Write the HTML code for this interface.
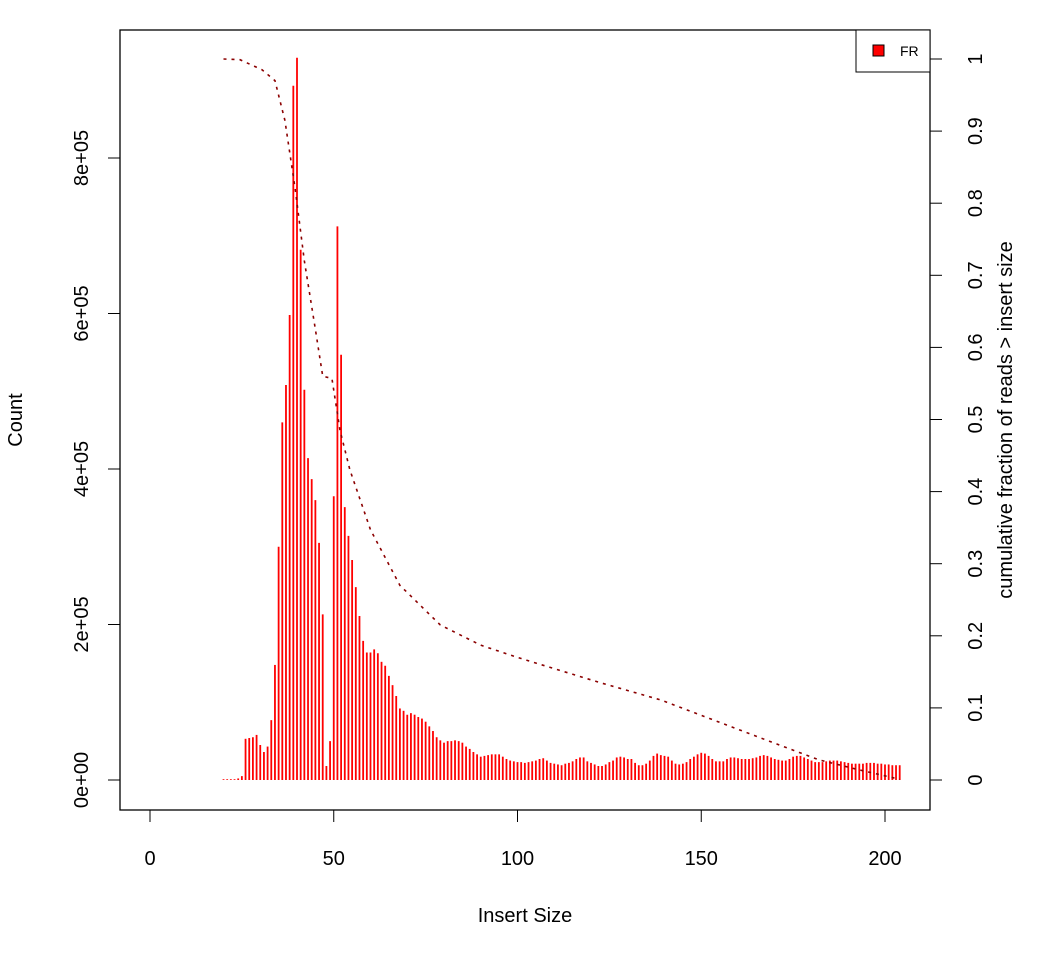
<!DOCTYPE html>
<html><head><meta charset="utf-8"><style>
body{margin:0;background:#fff}
text{font-family:"Liberation Sans",Arial,sans-serif;fill:#000}
</style></head><body>
<svg id="chart" width="1050" height="960" xmlns="http://www.w3.org/2000/svg">
<rect x="120" y="30" width="810" height="780" fill="none" stroke="#000" stroke-width="1.3"/>
<g id="bars"></g>
<path id="cum" fill="none" stroke="#8b0000" stroke-width="1.6" stroke-dasharray="3,5"/>
<g id="axes"></g>
<text x="525" y="922" font-size="20" text-anchor="middle">Insert Size</text>
<text transform="translate(22,420) rotate(-90)" font-size="20" text-anchor="middle">Count</text>
<text transform="translate(1012,420) rotate(-90)" font-size="20" text-anchor="middle">cumulative fraction of reads &gt; insert size</text>
<g>
<rect x="856" y="30" width="74" height="42" fill="#fff" stroke="#000" stroke-width="1"/>
<rect x="873" y="45" width="11" height="11" fill="#f00" stroke="#000" stroke-width="1"/>
<text x="900" y="56" font-size="14">FR</text>
</g>
</svg>
<script>
const sizesStart = 20;
const countsA = [0.01,0.01,0.01,0.01,0.02,0.05,0.53,0.54,0.55,0.58,0.45,0.36,0.43,0.77,1.48,3.0,4.6,5.08,5.98,8.93,9.29,6.82,5.02,4.14,3.87,3.6,3.05,2.13,0.18,0.5,3.65,7.12,5.47,3.51,3.14,2.83,2.48,2.11,1.79,1.64,1.64,1.68,1.63,1.52,1.47,1.34,1.22,1.08];
const countsB = [92,89,84,86,84,81,79,75,69,63,55,51,48,50,50,51,50,48,43,40,36,33,30,31,32,33,33,33,30,27,25,24,23,23,22,23,24,25,27,28,25,22,21,20,19,21,22,24,27,29,29,24,22,20,18,18,20,23,25,29,30,29,27,27,22,19,19,21,25,31,34,32,31,30,25,21,20,21,23,27,30,33,35,34,31,27,24,24,24,27,29,29,28,27,27,27,28,29,31,32,31,29,27,26,25,25,27,30,31,31,29,27,25,23,23,23,24,25,25,25,24,23,22,21,21,21,21,22,22,22,21,21,20,20,19,19,19];
const cumX = [20,24.5,30.5,34,36.7,39.5,42,45,47,49.5,51.7,54.4,60,68,79,90,100,122.5,139,155,171,182,193,204];
const cumY = [1.0,0.999,0.985,0.97,0.915,0.82,0.72,0.625,0.56,0.557,0.485,0.43,0.347,0.27,0.215,0.187,0.17,0.135,0.111,0.08,0.049,0.028,0.014,0.001];
const xTicks = [0,50,100,150,200];
const yTicks = [0,2,4,6,8];
const yTickLabels = ["0e+00","2e+05","4e+05","6e+05","8e+05"];
const rTicks = [0,0.1,0.2,0.3,0.4,0.5,0.6,0.7,0.8,0.9,1];
const rTickLabels = ["0","0.1","0.2","0.3","0.4","0.5","0.6","0.7","0.8","0.9","1"];

const counts = countsA.map(v=>v*1e5).concat(countsB.map(v=>v*1e3));
const X = v => 150 + v*3.675;
const Y = c => 780 - c/1e5*77.75;
const R = f => 780 - f*721;
const NS="http://www.w3.org/2000/svg";
const bars=document.getElementById('bars');
counts.forEach((c,i)=>{
  const l=document.createElementNS(NS,'line');
  const x=X(sizesStart+i);
  l.setAttribute('x1',x);l.setAttribute('x2',x);
  l.setAttribute('y1',Y(0));l.setAttribute('y2',Y(c));
  l.setAttribute('stroke','#f00');l.setAttribute('stroke-width','1.8');
  
  
  bars.appendChild(l);
});
document.getElementById('cum').setAttribute('d',cumX.map((x,i)=>(i?'L':'M')+X(x)+','+R(cumY[i])).join(''));
const ax=document.getElementById('axes');
function mk(tag,attrs,txt){const e=document.createElementNS(NS,tag);for(const k in attrs)e.setAttribute(k,attrs[k]);if(txt!==undefined)e.textContent=txt;ax.appendChild(e);return e;}
xTicks.forEach(t=>{
  const e=mk('line',{x1:X(t),x2:X(t),y1:810,y2:822,stroke:'#000'});
  
  
  const s=mk('text',{x:X(t),y:865,'font-size':20,'text-anchor':'middle'},t);
  
  
});
yTicks.forEach((t,i)=>{
  const y=Y(t*1e5);
  const e=mk('line',{x1:108,x2:120,y1:y,y2:y,stroke:'#000'});
  
  
  const s=mk('text',{transform:`translate(88,${y}) rotate(-90)`,'font-size':20,'text-anchor':'middle'},yTickLabels[i]);
  
  
});
rTicks.forEach((t,i)=>{
  const y=R(t);
  const e=mk('line',{x1:930,x2:942,y1:y,y2:y,stroke:'#000'});
  
  
  const s=mk('text',{transform:`translate(982,${y}) rotate(-90)`,'font-size':20,'text-anchor':'middle'},rTickLabels[i]);
  
  
});
</script>
</body></html>
